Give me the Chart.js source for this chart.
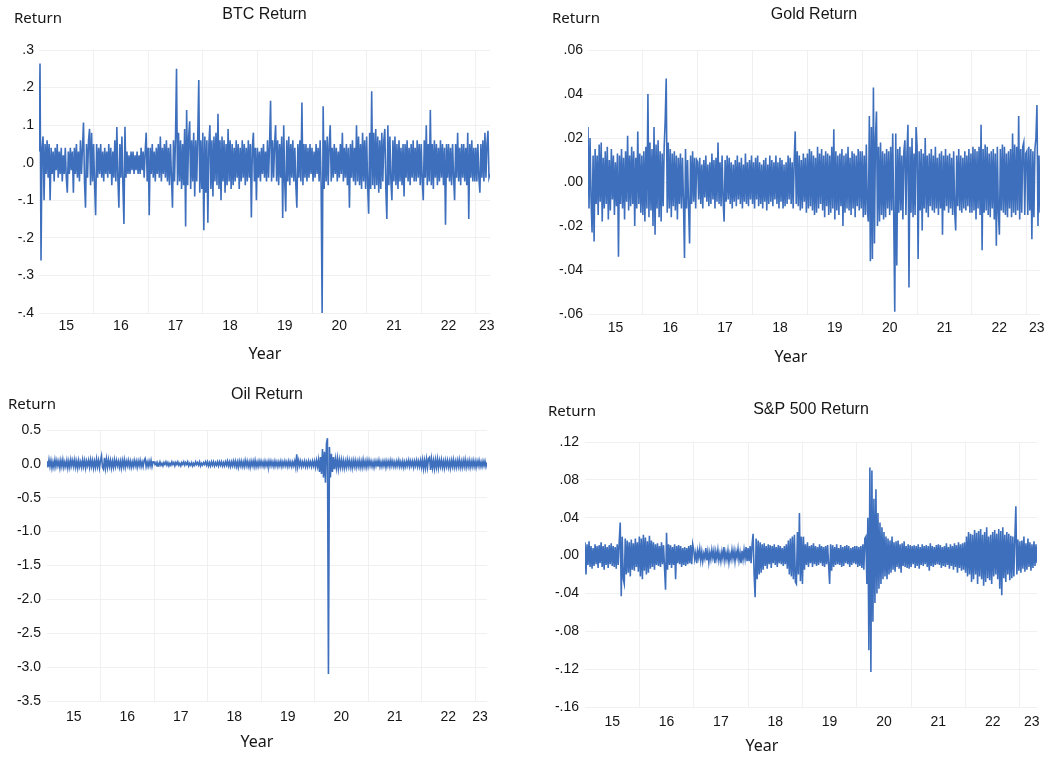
<!DOCTYPE html>
<html>
<head>
<meta charset="utf-8">
<script src="https://cdn.jsdelivr.net/npm/chart.js@4.4.0/dist/chart.umd.min.js"></script>
<style>
  html, body { margin: 0; padding: 0; background: #fff; overflow: hidden; }
  #wrap { position: relative; width: 1054px; height: 758px; }
  canvas { position: absolute; }
</style>
</head>
<body>
<div id="wrap">
  <canvas id="btc" width="527" height="379" style="left:0;top:0"></canvas>
  <canvas id="gold" width="527" height="379" style="left:527px;top:0"></canvas>
  <canvas id="oil" width="527" height="379" style="left:0;top:379px"></canvas>
  <canvas id="sp" width="527" height="379" style="left:527px;top:379px"></canvas>
</div>
<script>
// weekly returns, 54 samples per year starting Jan 2015
const FIRST_YEAR = 2015
const PER_YEAR = 54

const btcReturn = [
  // 2015
  .03, .264, -.26, .04, .07, -.10, .05, -.03, .06, -.04, .05, -.10, .04, -.03, .03, -.05, .04, -.02, .05, -.04, .03, -.03, .04, -.05, .02, -.03, .04,
  -.04, -.08, .03, -.03, .04, -.02, .03, -.08, .04, -.03, .05, -.04, .03, -.05, .06, -.03, .04, .107, -.05, -.12, .05, -.04, .06, .09, -.06, .08, -.05,
  // 2016
  .05, -.06, -.14, .05, -.04, .04, -.03, .05, -.04, .03, -.05, .04, -.03, .03, -.04, .05, -.03, .04, -.06, .03, -.04, .06, -.05, .095, -.04, -.12, .05,
  -.04, .07, -.06, -.163, .096, -.04, .03, -.03, .02, -.03, .03, -.02, .03, -.03, .02, -.02, .03, -.03, .02, -.03, .04, -.02, .03, -.04, .03, .08, -.05,
  // 2017
  .04, -.14, .04, -.03, .05, -.04, .03, -.05, .04, -.03, .05, -.04, .07, -.05, .04, -.03, .05, -.04, .06, -.05, .04, -.06, .05, -.04, -.12, .06, -.05,
  .07, .25, -.06, .08, -.05, .06, -.07, .05, -.06, .09, -.17, .14, -.06, .07, .11, -.07, .06, -.05, .08, -.09, .06, -.05, .07, .22, -.08, .06, -.07,
  // 2018
  .08, -.18, .07, -.08, .06, -.16, .05, .10, -.07, .06, -.09, .07, -.05, .08, -.06, .13, -.07, .06, -.10, .07, -.05, .06, -.08, .05, -.06, .09, -.05,
  .06, -.07, .05, -.06, .04, -.05, .06, -.04, .05, -.07, .04, -.05, .06, -.04, .05, -.06, .04, -.05, .06, -.04, .05, -.146, .04, .08, -.05, .04, -.10,
  // 2019
  .04, -.04, .03, -.05, .04, -.03, .05, -.04, .03, -.05, .06, -.04, .05, .165, -.05, .06, -.04, .05, .10, -.05, .06, -.06, .05, -.04, .07, -.147, .10, -.05,
  -.13, .06, -.05, .07, -.06, .05, -.04, .06, -.05, .04, -.06, -.12, .05, -.04, .06, -.05, .16, -.06, .05, -.04, .05, -.05, .04, -.04, .05, -.03,
  // 2020
  .04, -.05, .03, -.04, .05, -.03, .04, -.05, .06, -.06, -.40, .15, -.07, .06, -.05, .07, -.06, .05, .10, -.05, .04, -.04, .05, -.03, .04, -.05, .03,
  -.04, .05, -.03, .08, -.05, .04, -.04, .05, -.06, .04, -.12, .05, -.04, .06, -.05, .04, -.06, .10, -.05, .07, -.06, .05, -.07, .08, -.05, .06, -.07,
  // 2021
  .07, -.06, -.136, .08, -.07, .19, -.06, .08, -.07, .09, -.06, .07, -.08, .06, -.07, .08, -.05, .06, .09, -.07, -.15, .10, -.06, .07, -.05, -.10, .06,
  -.05, .07, -.06, .05, -.07, .06, -.05, .04, -.06, .05, -.09, .05, -.04, .06, -.05, .04, -.06, .05, -.04, .06, -.05, .04, -.05, .06, -.04, .05, -.06,
  // 2022
  .05, -.05, -.10, .06, -.04, .10, -.06, .05, -.05, .14, -.06, .05, -.07, .06, -.04, .05, -.06, .04, -.05, .06, -.04, .05, -.06, .04, -.165, .05, -.04,
  .05, -.05, .04, -.06, .05, -.04, -.10, .05, -.04, .08, -.05, .04, -.06, .05, -.04, .05, -.05, .04, -.06, .08, -.15, .05, -.04, .06, -.05, .04, -.05,
  // 2023
  .04, -.05, .05, -.04, -.08, .05, -.04, .06, -.05, .08, -.04, .05, .085, -.04, -.03
]

const goldReturn = [
  // 2015
  .025, -.012, .02, -.008, -.023, .012, -.027, .015, -.01, .012, -.015, .017, -.009, .018, -.018, .011, -.012, .014, -.01, .016, -.017, .01, -.013, .015, -.008, .012, -.015,
  .009, -.011, .013, -.034, .012, -.01, .015, -.012, .011, -.017, .014, -.009, .021, -.013, .012, -.011, .016, -.01, .014, -.02, .011, -.012, .023, -.01, .013, -.014, .012,
  // 2016
  -.015, .014, -.018, .016, -.012, .04, -.016, .018, -.013, .015, -.02, .025, -.024, .017, -.012, .019, -.016, .014, -.018, .013, -.011, .016, .028, .047, -.014, .018, -.012,
  .015, -.016, .013, -.011, .014, -.013, .012, -.017, .011, -.01, .013, -.012, .011, -.009, -.0345, .015, -.012, .01, -.011, -.028, .012, -.01, .014, -.009, .011, -.012, .01,
  // 2017
  .009, -.008, .011, -.01, .008, -.012, .01, -.007, .012, -.009, .008, -.011, .009, -.01, .013, -.008, .01, -.012, .011, -.009, .018, -.01, .009, -.011, .012, -.008, -.018,
  .01, -.009, .012, -.008, .011, -.01, .009, -.012, .008, -.009, .01, -.011, .012, -.008, .009, -.01, .011, -.012, .008, -.009, .013, -.01, .009, -.011, .01, -.008, .012,
  // 2018
  -.01, .009, -.012, .011, -.008, .012, -.011, .009, -.01, .008, -.012, .01, -.009, .011, -.013, .008, -.01, .012, -.009, .01, -.011, .009, -.008, .012, -.01, .009, -.012,
  .011, -.009, .01, -.012, .008, -.011, .009, -.01, .012, -.008, .011, -.01, .009, -.012, .01, .023, -.01, .014, -.011, .012, -.013, .01, -.012, .013, -.009, .011, -.014,
  // 2019
  .013, -.012, .015, -.011, .014, -.013, .012, -.015, .011, -.014, .016, -.012, .013, -.01, .015, -.013, .012, -.016, .014, -.011, .013, -.015, .012, -.014, .016, -.012, .024,
  -.017, .014, -.013, .012, -.015, .013, -.011, .015, -.02, .012, -.014, .013, -.012, .016, -.013, .011, -.015, .014, -.012, .013, -.016, .012, -.011, .015, -.013, .014, -.012,
  // 2020
  .014, -.016, .012, -.015, .017, -.013, -.018, .03, -.036, .025, -.035, .043, -.028, .02, .032, -.02, .016, -.018, .018, -.015, .014, -.017, .013, -.016, .015, -.012, .014,
  -.015, .016, -.013, .022, -.016, -.059, .022, -.038, .015, -.014, .016, -.013, .012, -.017, .014, .019, -.015, .013, .026, -.048, .016, -.014, .02, -.016, .013, -.015, .025,
  // 2021
  .016, -.035, .014, -.013, .015, -.022, .013, -.012, .02, -.014, .012, -.016, .013, -.011, .015, -.013, .012, -.014, .016, -.012, .011, -.015, .013, -.012, .014, -.024, .012,
  -.013, .015, -.011, .012, -.014, .013, -.012, .011, -.015, .014, -.013, -.022, .012, -.011, .015, -.013, .012, -.014, .011, -.012, .014, -.013, .012, -.011, .015, -.014, .013,
  // 2022
  -.014, .016, -.013, .015, -.017, .014, -.012, .016, -.015, .026, -.031, .015, -.014, .017, -.013, .016, -.015, .013, -.016, .014, -.012, .015, -.017, .013, -.029, .016, -.014,
  -.024, .015, -.013, .017, -.014, .016, -.015, .013, -.016, .014, -.012, .015, -.016, .022, -.014, .017, -.015, .016, -.013, .03, -.017, .015, -.014, .016, .018, -.015, .013,
  // 2023
  .014, -.015, .016, -.013, .015, -.026, .014, -.016, .015, .02, .035, -.02, .012, -.014
]

const oilReturn = [
  // 2015
  .04, -.05, .06, -.04, .05, -.06, .03, -.05, .06, -.04, .05, -.03, .04, -.06, .05, -.04, .06, -.05, .03, -.04, .05, -.06, .04, -.05, .06, -.03, .05,
  -.04, .06, -.05, .04, -.06, .05, -.04, .03, -.05, .06, -.04, .05, -.06, .04, -.03, .05, -.05, .06, -.04, .05, -.06, .04, -.05, .07, -.04, .05, -.06,
  // 2016
  .05, .12, -.05, -.08, .09, -.06, .07, -.05, .06, -.04, .05, -.06, .04, -.05, .06, -.04, .05, -.03, .04, -.05, .04, -.06, .05, -.04, .06, -.05, .04,
  -.03, .05, -.04, .04, -.05, .03, -.04, .05, -.03, .04, -.05, .04, -.03, .05, -.04, .03, -.04, .05, .08, -.04, .03, -.04, .04, -.03, .05, -.04, .03,
  // 2017
  .03, -.01, .02, -.03, .01, -.02, .03, -.02, .01, -.03, .02, -.01, .03, -.02, .02, -.03, .01, -.02, .03, -.01, .02, -.03, .02, -.01, .03, -.02, .01,
  -.03, .02, -.01, .03, -.02, .02, -.01, .03, -.03, .01, -.02, .02, -.03, .01, -.02, .03, -.01, .02, -.02, .03, -.03, .01, -.02, .02, -.01, .03, -.02,
  // 2018
  .03, -.03, .02, -.03, .03, -.02, .03, -.03, .02, -.02, .03, -.03, .03, -.02, .03, -.03, .02, -.03, .03, -.02, .04, -.03, .03, -.04, .03, -.03, .04,
  -.03, .04, -.04, .03, -.05, .04, -.03, .04, -.04, .03, -.04, .05, -.03, .04, -.04, .03, -.05, .04, -.03, .04, -.04, .05, -.04, .03, -.04, .04, -.03,
  // 2019
  .04, -.03, .03, -.04, .04, -.03, .03, -.04, .04, -.03, .04, -.03, .03, -.04, .04, -.03, .03, -.04, .03, -.03, .04, -.04, .03, -.03, .04, -.03, .03,
  -.04, .04, -.03, .03, -.04, .03, -.03, .04, -.05, .14, -.04, .05, -.03, .04, -.04, .03, -.03, .04, -.04, .03, -.04, .04, -.03, .03, -.04, .04, -.03,
  // 2020
  .04, -.05, .05, -.04, .06, -.12, .1, -.15, .22, -.2, .18, -.28, .3, .38, -3.1, .25, -.2, .15, -.12, .1, -.08, .07, -.06, .08, -.07, .06, -.05,
  .06, -.05, .05, -.06, .04, -.05, .06, -.04, .05, -.05, .04, -.06, .05, -.04, .05, -.05, .04, -.04, .05, -.05, .04, -.05, .06, -.04, .04, -.05, .05,
  // 2021
  -.04, .05, -.03, .04, -.04, .03, -.05, .04, -.03, .04, -.04, .05, -.04, .03, -.04, .04, -.03, .04, -.05, .04, -.03, .04, -.04, .05, -.03, .04, -.04,
  .03, -.04, .04, -.03, .05, -.04, .03, -.04, .04, -.05, .03, -.04, .04, -.03, .05, -.04, .04, -.03, .04, -.05, .04, -.03, .05, -.04, .04, -.04, .05,
  // 2022
  -.05, .06, -.07, .05, -.06, .07, -.05, .08, .1, -.09, .07, -.06, .05, -.07, .06, -.05, .07, -.06, .05, -.04, .06, -.05, .04, -.06, .05, -.04, .05,
  -.05, .04, -.06, .05, -.04, .06, -.05, .04, -.05, .05, -.04, .06, -.05, .04, -.05, .05, -.04, .06, -.05, .04, -.04, .05, -.05, .04, -.04, .05, -.04,
  // 2023
  .04, -.05, .04, -.03, .05, -.04, .03, -.04, .04, -.03, .04, -.04, .02
]

const spReturn = [
  // 2015
  .014, -.02, .012, -.01, .015, -.012, .01, -.014, .008, -.011, .012, -.009, .01, -.013, .011, -.008, .014, -.012, .01, -.015, .012, -.01, .009, -.013, .011, -.009, .013,
  -.011, .01, -.012, .009, -.014, .012, -.01, .015, .035, -.043, .02, -.025, -.03, .018, -.02, .016, -.018, .014, -.022, .017, -.015, .013, -.016, .018, -.012, .014, -.017,
  // 2016
  .02, -.022, .018, -.025, .022, -.016, .019, -.02, .015, -.018, .021, -.014, .016, -.012, .014, -.015, .012, -.01, .013, -.011, .01, -.012, .014, -.009, .011, -.013, -.036,
  .024, -.015, .012, -.01, .011, -.013, .009, -.01, .012, -.025, .01, -.008, .011, -.009, .01, -.012, .008, -.01, .009, -.011, .008, -.009, .01, -.008, .011, -.009, .012,
  // 2017
  .006, -.004, .003, -.008, .005, -.002, .007, -.005, .004, -.006, .002, -.003, .008, -.005, .004, -.007, .003, -.004, .006, -.002, .005, -.008, .004, -.003, .006, -.005, .002,
  -.006, .004, -.003, .009, -.005, .003, -.004, .005, -.007, .002, -.004, .006, -.003, .005, -.006, .004, -.002, .007, -.005, .003, -.008, .005, -.004, .006, -.003, .009, -.006,
  // 2018
  .008, -.006, .01, -.008, .012, .023, -.02, -.044, .018, -.025, .016, -.02, .014, -.018, .012, -.015, .013, -.011, .01, -.014, .012, -.009, .011, -.013, .01, -.008, .012,
  -.01, .009, -.012, .011, -.008, .01, -.009, .008, -.011, .01, -.009, .012, -.014, .016, -.02, .018, -.022, .02, -.025, .022, -.028, -.03, .025, -.02, .045, -.027, .02,
  // 2019
  -.03, .02, -.015, .012, -.01, .014, -.012, .01, -.008, .011, -.012, .013, -.009, .01, -.011, .009, -.01, .012, -.008, .01, -.011, .009, -.012, .01, -.009, .011, -.01,
  -.03, .012, -.016, .011, -.012, .009, -.01, .012, -.009, .008, -.01, .011, -.012, .009, -.011, .01, -.008, .011, -.009, .01, -.012, .008, -.01, .009, -.008, .01, -.009,
  // 2020
  .01, -.012, .009, -.011, .01, -.013, .012, -.015, .018, .02, -.03, .04, -.1, .093, -.123, .09, -.07, .06, -.05, .07, -.04, .045, -.035, .035, -.03, .03, -.025,
  .025, -.022, .02, -.025, .018, -.02, .016, -.018, .02, -.015, .014, -.017, .015, -.012, .016, -.014, .012, -.018, .013, -.011, .015, -.012, .01, -.013, .012, -.014, .011,
  // 2021
  -.012, .01, -.009, .011, -.013, .01, -.011, .012, -.014, .009, -.01, .012, -.011, .01, -.009, .011, -.012, .01, -.016, .013, -.011, .01, -.012, .009, -.01, .011, -.009,
  .012, -.01, .011, -.013, .009, -.011, .01, -.012, .013, -.01, .009, -.014, .012, -.011, .01, -.015, .013, -.012, .011, -.018, .014, -.013, .012, -.016, .013, -.015, .014,
  // 2022
  -.018, .02, -.022, .025, -.02, .023, -.028, .022, -.025, .027, -.02, .024, -.03, .026, -.022, .028, -.025, .022, -.032, .025, -.028, .03, -.024, .02, -.026, .022, -.03,
  .025, -.022, .027, -.02, .023, -.025, .028, -.035, .026, -.042, .03, -.024, .022, -.028, .025, -.02, .023, -.026, .021, -.024, .02, -.022, .018, .052, -.02, .017, -.016,
  // 2023
  .015, -.018, .016, -.014, .02, -.017, .013, -.015, .018, -.012, .014, -.016, .012, -.013, .015, -.011, .012, -.008
]

// axis ticks
const yearText = ['15', '16', '17', '18', '19', '20', '21', '22', '23']
const gridYears = [2016, 2017, 2018, 2019, 2020, 2021, 2022, 2023]

const btcTicks = [.3, .2, .1, 0, -.1, -.2, -.3, -.4]
const btcTickText = ['.3', '.2', '.1', '.0', '-.1', '-.2', '-.3', '-.4']
const goldTicks = [.06, .04, .02, 0, -.02, -.04, -.06]
const goldTickText = ['.06', '.04', '.02', '.00', '-.02', '-.04', '-.06']
const oilTicks = [.5, 0, -.5, -1, -1.5, -2, -2.5, -3, -3.5]
const oilTickText = ['0.5', '0.0', '-0.5', '-1.0', '-1.5', '-2.0', '-2.5', '-3.0', '-3.5']
const spTicks = [.12, .08, .04, 0, -.04, -.08, -.12, -.16]
const spTickText = ['.12', '.08', '.04', '.00', '-.04', '-.08', '-.12', '-.16']

const LINE = '#3e6fbd'
const GRID = '#f0f0f0'
const INK = '#161616'
const TICK_FONT = { family: 'Liberation Sans, Arial, sans-serif', size: 14 }

// free text: the "Return" unit at the top left and the "Year" caption
const panelText = {
  id: 'panelText',
  afterDraw(chart, args, opts) {
    const ctx = chart.ctx
    ctx.save()
    ctx.fillStyle = INK
    ctx.textBaseline = 'middle'
    opts.items.forEach(it => {
      ctx.font = it.font
      ctx.textAlign = it.align
      ctx.fillText(it.text, it.x, it.y)
    })
    ctx.restore()
  }
}

function drawPanel(id, p) {
  const W = 527, H = 379
  const a = p.area
  const xMax = FIRST_YEAR + (p.values.length - 1) / PER_YEAR
  const labelPos = [2015.5, 2016.5, 2017.5, 2018.5, 2019.5, 2020.5, 2021.5, 2022.5, p.last]
  const points = p.values.map((v, i) => ({ x: FIRST_YEAR + i / PER_YEAR, y: v }))

  new Chart(document.getElementById(id), {
    type: 'line',
    data: {
      datasets: [{
        data: points,
        borderColor: LINE,
        borderWidth: 1.6,
        borderJoinStyle: 'miter',
        pointRadius: 0,
        tension: 0,
        fill: false
      }]
    },
    options: {
      responsive: false,
      animation: false,
      devicePixelRatio: 1,
      events: [],
      layout: { padding: { left: 0, top: 0, right: W - a.r, bottom: H - a.b - 30 } },
      plugins: {
        legend: { display: false },
        tooltip: { enabled: false },
        title: {
          display: true,
          text: p.title,
          fullSize: false,
          color: INK,
          font: { family: 'Liberation Sans, Arial, sans-serif', size: 16, weight: 'normal' },
          padding: { top: p.titleY - 9.6, bottom: a.t - p.titleY - 9.6 }
        },
        panelText: {
          items: [
            { text: 'Return', x: p.unit[0], y: p.unit[1], align: 'left', font: '15px "Noto Sans"' },
            { text: 'Year', x: p.year[0], y: p.year[1], align: 'center', font: '16px "Noto Sans"' }
          ]
        }
      },
      scales: {
        x: {
          type: 'linear',
          min: FIRST_YEAR,
          max: xMax,
          border: { display: false },
          grid: {
            drawTicks: false,
            color: c => (c.tick && Number.isInteger(c.tick.value)) ? GRID : 'rgba(0,0,0,0)'
          },
          afterBuildTicks: s => {
            s.ticks = gridYears.concat(labelPos).sort((m, n) => m - n).map(v => ({ value: v }))
          },
          afterFit: s => { s.height = 30 },
          ticks: {
            autoSkip: false,
            maxRotation: 0,
            padding: p.xLabelY - a.b - 8.4,
            color: INK,
            font: TICK_FONT,
            callback: v => {
              const k = labelPos.indexOf(v)
              return k >= 0 ? yearText[k] : ''
            }
          }
        },
        y: {
          min: p.ticks[p.ticks.length - 1],
          max: p.ticks[0],
          border: { display: false },
          grid: { drawTicks: false, color: GRID },
          afterBuildTicks: s => { s.ticks = p.ticks.map(v => ({ value: v })) },
          afterFit: s => { s.width = a.l },
          ticks: {
            padding: p.yPad,
            color: INK,
            font: TICK_FONT,
            callback: v => p.tickText[p.ticks.indexOf(v)]
          }
        }
      }
    },
    plugins: [panelText]
  })
}

drawPanel('btc', {
  title: 'BTC Return', values: btcReturn, ticks: btcTicks, tickText: btcTickText,
  area: { l: 39, r: 490, t: 50, b: 313 }, titleY: 15, xLabelY: 326, yPad: 5, last: 2023.2,
  unit: [14, 19], year: [265, 354]
})
drawPanel('gold', {
  title: 'Gold Return', values: goldReturn, ticks: goldTicks, tickText: goldTickText,
  area: { l: 61, r: 513, t: 50, b: 314 }, titleY: 15, xLabelY: 328, yPad: 5, last: 2023.18,
  unit: [25, 19], year: [264, 357]
})
drawPanel('oil', {
  title: 'Oil Return', values: oilReturn, ticks: oilTicks, tickText: oilTickText,
  area: { l: 47, r: 487, t: 51, b: 322 }, titleY: 16, xLabelY: 338, yPad: 6, last: 2023.09,
  unit: [8, 26], year: [257, 363]
})
drawPanel('sp', {
  title: 'S&P 500 Return', values: spReturn, ticks: spTicks, tickText: spTickText,
  area: { l: 58, r: 510, t: 63, b: 328 }, titleY: 31, xLabelY: 343, yPad: 6, last: 2023.22,
  unit: [21, 33], year: [235, 367]
})
</script>
</body>
</html>
